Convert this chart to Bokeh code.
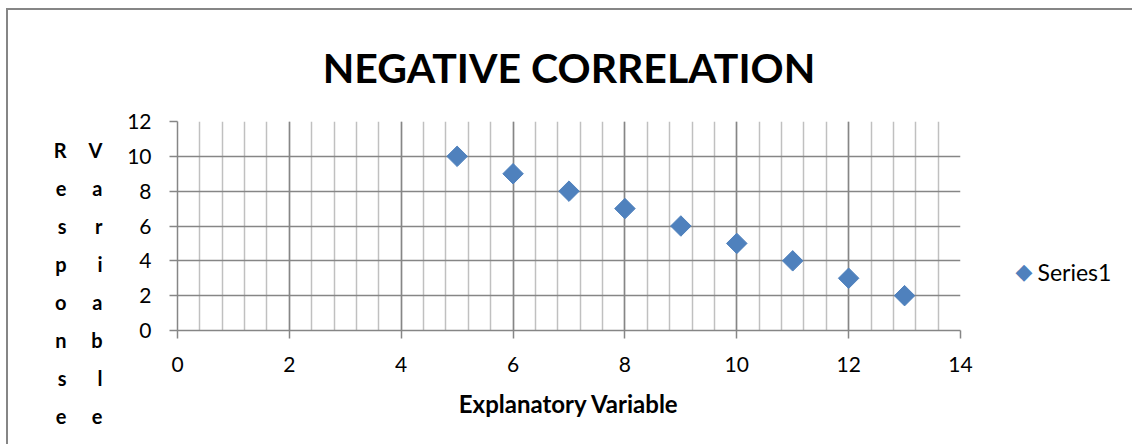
import math
from bokeh.plotting import figure
from bokeh.models import (SingleIntervalTicker, FixedTicker, Range1d, LinearAxis,
                          ColumnDataSource)
from bokeh.embed import file_html
from bokeh.resources import INLINE

# ---- data ----
explanatory = [5, 6, 7, 8, 9, 10, 11, 12, 13]
response = [10, 9, 8, 7, 6, 5, 4, 3, 2]
series_name = "Series1"
title_text = "NEGATIVE CORRELATION"
x_label = "Explanatory Variable"
y_label_words = ["Response", "Variable"]

FONT = "Lato"
BLUE = "#4f81bd"
MAJOR = "#868686"
MINOR = "#c0c0c0"

# canvas origin on the page (margin + 2px chart border)
CX, CY = 8, 10
# frame geometry in page pixels
FX0, FX1, FY0, FY1 = 177, 960, 330, 121

p = figure(width=1134 - CX, height=446 - CY, output_backend="svg", toolbar_location=None,
           x_range=Range1d(0, 14), y_range=Range1d(0, 12),
           min_border_left=FX0 - CX, min_border_right=1134 - FX1,
           min_border_top=FY1 - CY, min_border_bottom=446 - FY0,
           background_fill_color="white", border_fill_color="white",
           margin=(8, 0, 0, 6),
           styles={"border-top": f"2px solid {MAJOR}", "border-left": f"2px solid {MAJOR}"})
p.outline_line_color = None

# title
p.title.text = title_text
p.title.text_font = FONT
p.title.text_font_size = "41px"
p.title.text_font_style = "bold"
p.title.text_color = "black"
p.title.align = "center"
p.title.offset = 5
p.title.standoff = 60

# axes
xt = SingleIntervalTicker(interval=2, num_minor_ticks=5)
yt = SingleIntervalTicker(interval=2, num_minor_ticks=0)
p.xaxis.ticker = xt
p.yaxis.ticker = yt
for ax in (p.xaxis[0], p.yaxis[0]):
    ax.axis_line_color = MAJOR
    ax.axis_line_width = 1.5
    ax.major_tick_line_color = MAJOR
    ax.major_tick_line_width = 1.5
    ax.major_tick_out = 8
    ax.major_tick_in = 0
    ax.minor_tick_out = 0
    ax.minor_tick_in = 0
    ax.major_label_text_font = FONT
    ax.major_label_text_font_size = "21px"
    ax.major_label_text_color = "black"
p.xaxis.major_label_standoff = 18
p.yaxis.major_label_standoff = 18
p.xaxis.axis_label = x_label
p.xaxis.axis_label_text_font = FONT
p.xaxis.axis_label_text_font_size = "24px"
p.xaxis.axis_label_text_font_style = "bold"
p.xaxis.axis_label_text_color = "black"
p.xaxis.axis_label_standoff = 14


def label_axis(text, standoff, font, size, style, color, line_height):
    return LinearAxis(ticker=FixedTicker(ticks=[]),
                      axis_line_color=None, major_tick_line_color=None,
                      minor_tick_line_color=None, major_tick_out=0, minor_tick_out=0,
                      major_label_standoff=0,
                      axis_label=text,
                      axis_label_orientation="horizontal",
                      axis_label_standoff=standoff,
                      axis_label_text_font=font, axis_label_text_font_size=size,
                      axis_label_text_font_style=style, axis_label_text_color=color,
                      axis_label_text_line_height=line_height,
                      axis_label_text_align="center")


# stacked y-axis title: one letter per line, two columns
PAD = "\u00a0\n\u00a0\n\u00a0\n"
for word, standoff in zip(reversed(y_label_words), [22, 19]):
    p.add_layout(label_axis(PAD + "\n".join(word), standoff, FONT, "20px", "bold",
                            "black", 1.58), "left")

# legend (marker key + series name), placed to the right of the plot area
LPAD = "\u00a0\n\u00a0\n"
p.add_layout(label_axis(LPAD + "\u25c6", 55, "DejaVu Sans", "22px", "normal",
                        BLUE, 1.8), "right")
p.add_layout(label_axis(LPAD + series_name, 2, FONT, "23px", "normal",
                        "black", 1.66), "right")

# grids
p.xgrid.ticker = xt
p.ygrid.ticker = yt
p.xgrid.grid_line_color = MAJOR
p.xgrid.grid_line_width = 1.5
p.xgrid.minor_grid_line_color = MINOR
p.xgrid.minor_grid_line_width = 1.5
p.ygrid.grid_line_color = MAJOR
p.ygrid.grid_line_width = 1.5

# data
src = ColumnDataSource(dict(x=explanatory, y=response))
p.scatter("x", "y", source=src, marker="square", size=14.5, angle=math.pi / 4,
          fill_color=BLUE, line_color=BLUE)

open("out.html", "w").write(file_html(p, INLINE))
